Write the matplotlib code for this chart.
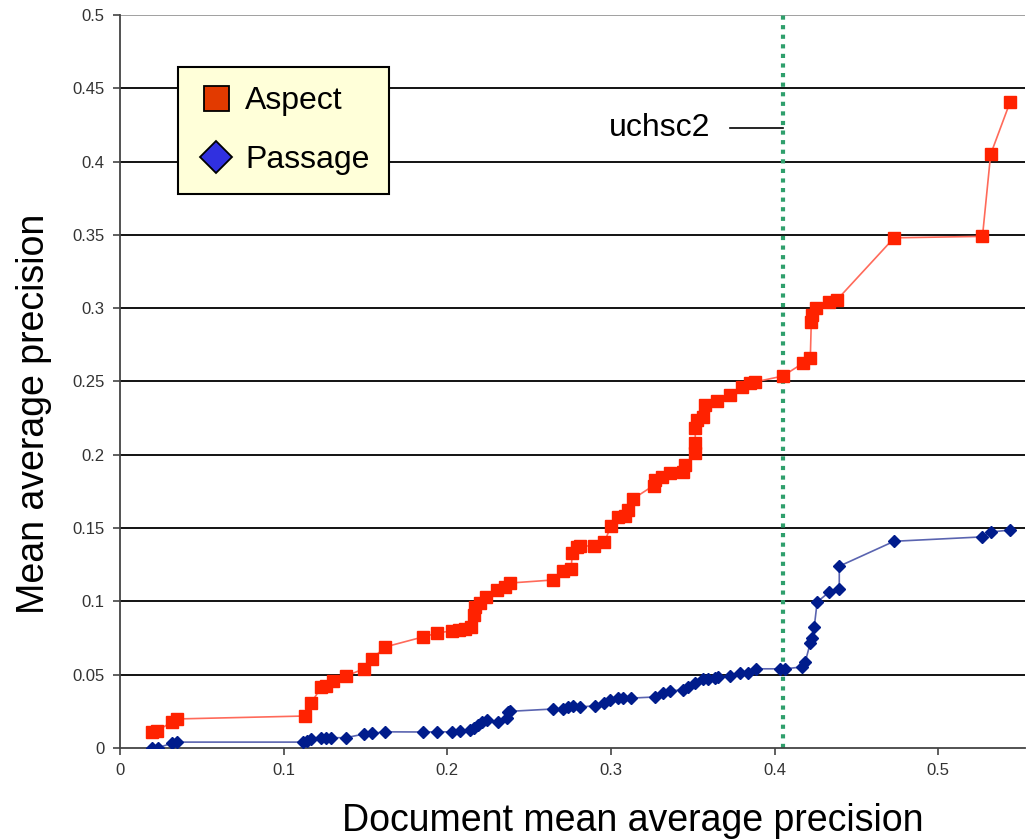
import matplotlib
matplotlib.use('Agg')
import matplotlib.pyplot as plt
from matplotlib.lines import Line2D

plt.rcParams['font.family'] = ['Liberation Sans', 'DejaVu Sans']

# Aspect run (red squares)
aspect_x = [0.0196, 0.0226, 0.032, 0.035, 0.113, 0.117, 0.123, 0.126, 0.130, 0.138,
            0.149, 0.154, 0.162, 0.185, 0.194, 0.203, 0.207, 0.211, 0.2145, 0.2164,
            0.217, 0.220, 0.2237, 0.2304, 0.235, 0.238, 0.2647, 0.2708, 0.2757, 0.2763,
            0.279, 0.281, 0.2897, 0.296, 0.300, 0.304, 0.3087, 0.3105, 0.3136, 0.326,
            0.327, 0.331, 0.336, 0.344, 0.345, 0.3515, 0.3515, 0.3515, 0.3527, 0.356,
            0.3576, 0.365, 0.373, 0.380, 0.385, 0.388, 0.405, 0.4175, 0.4218, 0.4224,
            0.423, 0.4254, 0.4334, 0.438, 0.473, 0.527, 0.532, 0.544]
aspect_y = [0.0109, 0.0116, 0.018, 0.0198, 0.0218, 0.031, 0.0416, 0.042, 0.0457, 0.049,
            0.054, 0.0607, 0.0689, 0.0757, 0.0784, 0.080, 0.0805, 0.081, 0.0825, 0.091,
            0.096, 0.099, 0.103, 0.1078, 0.1098, 0.1125, 0.1146, 0.1207, 0.122, 0.133,
            0.137, 0.1378, 0.1378, 0.1405, 0.1514, 0.1576, 0.158, 0.1623, 0.170, 0.179,
            0.183, 0.185, 0.1876, 0.188, 0.193, 0.201, 0.208, 0.218, 0.2237, 0.226,
            0.234, 0.237, 0.241, 0.246, 0.249, 0.2497, 0.2537, 0.2626, 0.266, 0.2906,
            0.2954, 0.300, 0.304, 0.3056, 0.348, 0.349, 0.405, 0.441]

# Passage run (blue diamonds)
passage_x = [0.0196, 0.023, 0.032, 0.035, 0.112, 0.114, 0.117, 0.123, 0.126, 0.129,
             0.138, 0.149, 0.154, 0.162, 0.185, 0.194, 0.203, 0.208, 0.214, 0.216,
             0.219, 0.221, 0.224, 0.231, 0.2366, 0.237, 0.2384, 0.2647, 0.2708, 0.274,
             0.277, 0.281, 0.290, 0.296, 0.2995, 0.304, 0.3075, 0.312, 0.327, 0.332,
             0.336, 0.344, 0.347, 0.3515, 0.356, 0.359, 0.3637, 0.3655, 0.373, 0.379,
             0.384, 0.3888, 0.4034, 0.4065, 0.4169, 0.4187, 0.4218, 0.423, 0.4242, 0.426,
             0.4334, 0.4395, 0.4395, 0.473, 0.527, 0.532, 0.544]
passage_y = [0.0, 0.0, 0.0034, 0.004, 0.004, 0.0048, 0.006, 0.007, 0.007, 0.007,
             0.007, 0.0095, 0.010, 0.011, 0.0109, 0.011, 0.011, 0.0116, 0.0123, 0.0136,
             0.0157, 0.0177, 0.019, 0.0177, 0.0205, 0.0246, 0.025, 0.0266, 0.0266, 0.028,
             0.0287, 0.028, 0.0287, 0.0307, 0.0327, 0.034, 0.034, 0.034, 0.0348, 0.0375,
             0.039, 0.0396, 0.0416, 0.0443, 0.047, 0.047, 0.0477, 0.0484, 0.049, 0.051,
             0.051, 0.054, 0.054, 0.054, 0.0553, 0.0587, 0.0716, 0.075, 0.0825, 0.0996,
             0.1064, 0.1085, 0.124, 0.141, 0.144, 0.1473, 0.1487]

uchsc2_x = 0.405
xticks = [0, 0.1, 0.2, 0.3, 0.4, 0.5]
yticks = [0, 0.05, 0.1, 0.15, 0.2, 0.25, 0.3, 0.35, 0.4, 0.45, 0.5]

fig = plt.figure(figsize=(10.31, 8.39), dpi=100)
ax = fig.add_axes([0.1164, 0.1085, 0.8778, 0.8736])

for v in yticks[1:]:
    ax.axhline(v, color='black' if v < 0.5 else '#999999', lw=1.3, zorder=1)

ax.plot(aspect_x, aspect_y, color='#ff6a5a', lw=1.2, marker='s', ms=8.5,
        mfc='#ff2200', mec='#ff2200', zorder=3)
ax.plot(passage_x, passage_y, color='#5a64b0', lw=1.2, marker='D', ms=6,
        mfc='#001c8c', mec='#001c8c', zorder=3)

ax.axvline(uchsc2_x, color='#2f9f6c', lw=3, ls=(0, (1, 1.3)), zorder=2)
ax.plot([0.373, uchsc2_x], [0.423, 0.423], color='black', lw=1.2, zorder=2)
ax.text(0.361, 0.423, 'uchsc2', fontsize=23, ha='right', va='center')

ax.set_xlim(0, 0.553)
ax.set_ylim(0, 0.5)
ax.set_xticks(xticks)
ax.set_xticklabels(['0', '0.1', '0.2', '0.3', '0.4', '0.5'])
ax.set_yticks(yticks)
ax.set_yticklabels(['0', '0.05', '0.1', '0.15', '0.2', '0.25', '0.3', '0.35',
                    '0.4', '0.45', '0.5'])
ax.tick_params(direction='out', length=5, width=1.2, colors='#444444',
               labelsize=12, labelcolor='#333333', pad=6)
for s in ['top', 'right']:
    ax.spines[s].set_visible(False)
for s in ['left', 'bottom']:
    ax.spines[s].set_color('#444444')
    ax.spines[s].set_linewidth(1.3)

fig.text(0.033, 0.507, 'Mean average precision', rotation=90, fontsize=27,
         ha='center', va='center')
fig.text(0.614, 0.022, 'Document mean average precision', fontsize=27,
         ha='center', va='center')

handles = [
    Line2D([], [], ls='none', marker='s', ms=18, mfc='#e23a00', mec='black', mew=1.3),
    Line2D([], [], ls='none', marker='D', ms=16, mfc='#3030e0', mec='black', mew=1.3),
]
leg = ax.legend(handles, ['Aspect', 'Passage'], loc='upper left',
                bbox_to_anchor=(0.064, 0.929), borderaxespad=0, fontsize=23,
                fancybox=False, framealpha=1, facecolor='#ffffd9',
                edgecolor='black', labelspacing=0.9, handletextpad=0.3,
                borderpad=0.6, handlelength=1.2)
leg.get_frame().set_linewidth(1.5)
leg.set_zorder(5)

fig.savefig('out.png', dpi=100)
